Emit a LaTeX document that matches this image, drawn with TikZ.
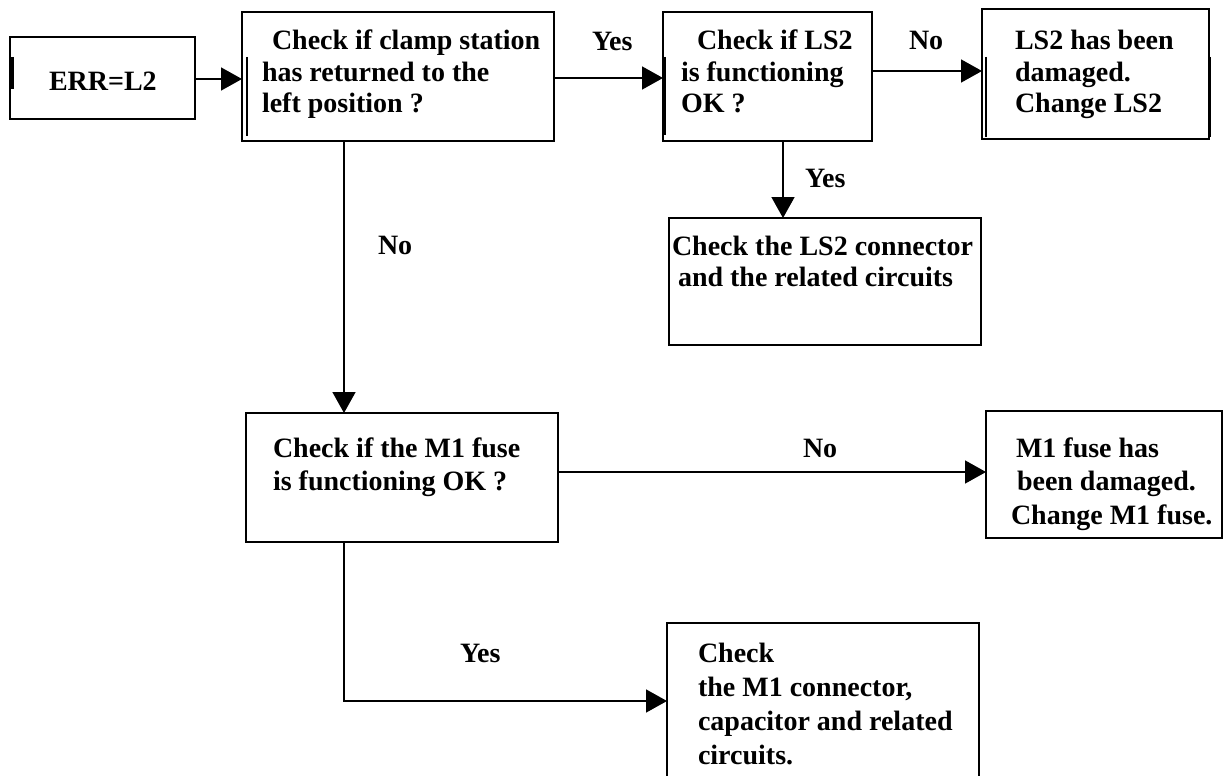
\documentclass[tikz,border=0pt]{standalone}
\usepackage{fontspec}
\setmainfont{Liberation Serif}
\usetikzlibrary{arrows.meta}
\tikzset{
  box/.style={draw=black, line width=1.6pt, rectangle, inner sep=0pt, outer sep=0pt},
  txt/.style={anchor=base west, inner sep=0pt, outer sep=0pt, align=left, font=\fontsize{28}{31.5}\selectfont\bfseries},
  lbl/.style={anchor=base west, inner sep=0pt, outer sep=0pt, font=\fontsize{28}{31.5}\selectfont\bfseries},
  arr/.style={draw=black, line width=1.6pt, -{Triangle[length=21pt,width=23pt]}},
  extra/.style={draw=black, line width=1.6pt}
}
\begin{document}
\begin{tikzpicture}[x=1pt,y=1pt]
\useasboundingbox (0,-776) rectangle (1224,0);
\clip (0,-776) rectangle (1224,0);
% boxes
\node[box, minimum width=185pt, minimum height=82pt] (err) at (102.5,-78) {};
\node[box, minimum width=312pt, minimum height=129pt] (clamp) at (398,-76.5) {};
\node[box, minimum width=209pt, minimum height=129pt] (ls2) at (767.5,-76.5) {};
\node[box, minimum width=227pt, minimum height=130pt] (dmg) at (1095.5,-74) {};
\node[box, minimum width=312pt, minimum height=127pt] (lsconn) at (825,-281.5) {};
\node[box, minimum width=312pt, minimum height=129pt] (m1) at (402,-477.5) {};
\node[box, minimum width=236pt, minimum height=127pt] (m1dmg) at (1104,-474.5) {};
\node[box, minimum width=312pt, minimum height=190pt] (final) at (823,-718) {};
% small extra edge strokes seen in the picture
\draw[extra, line width=3pt] (12,-57) -- (12,-89);
\draw[extra] (247,-57) -- (247,-136);
\draw[extra, line width=2.4pt] (665,-57) -- (665,-135);
\draw[extra] (986,-57) -- (986,-137);
\draw[extra, line width=2.4pt] (1210,-57) -- (1210,-137);
% texts (base anchor = baseline of the last line)
\node[txt] (terr) at (49,-90) {ERR=L2};
\node[txt] (tclamp) at (262,-113) {\hspace*{10pt}Check if clamp station\\has returned to the\\left position ?};
\node[txt] (tls2) at (681,-113) {\hspace*{16pt}Check if LS2\\is functioning\\OK ?};
\node[txt] (tdmg) at (1015,-113) {LS2 has been\\damaged.\\Change LS2};
\node[txt] (tconn) at (672,-286.5) {Check the LS2 connector\\\hspace*{6pt}and the related circuits};
\node[txt, font=\fontsize{28}{33}\selectfont\bfseries] (tm1) at (273,-490) {Check if the M1 fuse\\is functioning OK ?};
\node[txt, font=\fontsize{28}{33.5}\selectfont\bfseries] (tm1dmg) at (1011,-524) {\hspace*{5pt}M1 fuse has\\\hspace*{6pt}been damaged.\\Change M1 fuse.};
\node[txt, font=\fontsize{28}{34}\selectfont\bfseries] (tfinal) at (698,-764) {Check\\the M1 connector,\\capacitor and related\\circuits.};
% connectors
\draw[arr] (err.east |- 0,-79) -- (clamp.west |- 0,-79);
\draw[arr] (clamp.east |- 0,-78) -- (ls2.west |- 0,-78);
\draw[arr] (ls2.east |- 0,-71) -- (dmg.west |- 0,-71);
\draw[arr] (ls2.south -| 783,0) -- (lsconn.north -| 783,0);
\draw[arr] (clamp.south -| 344,0) -- (m1.north -| 344,0);
\draw[arr] (m1.east |- 0,-472) -- (m1dmg.west |- 0,-472);
\draw[arr] (m1.south -| 344,0) -- (344,-701) -- (final.west |- 0,-701);
% connector labels
\node[lbl] (yes1) at (592,-51) {Yes};
\node[lbl] (no1) at (909,-50) {No};
\node[lbl] (yes2) at (805,-187) {Yes};
\node[lbl] (no2) at (378,-254) {No};
\node[lbl] (no3) at (803,-457) {No};
\node[lbl] (yes3) at (460,-662) {Yes};
\end{tikzpicture}
\end{document}
